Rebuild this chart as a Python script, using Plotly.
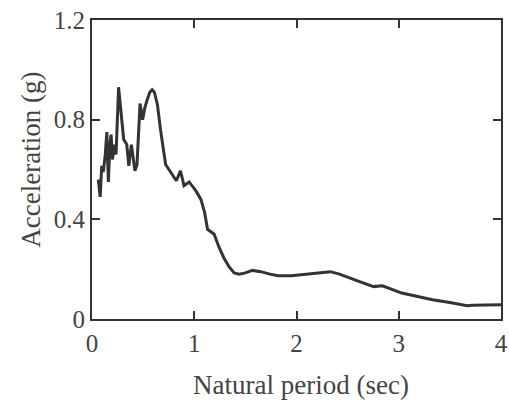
import plotly.graph_objects as go

period = [0.062, 0.08, 0.095, 0.11, 0.13, 0.145, 0.16, 0.175, 0.187, 0.20, 0.22, 0.235, 0.26,
          0.285, 0.31, 0.34, 0.36, 0.385, 0.42, 0.44, 0.47, 0.495, 0.515, 0.54, 0.565, 0.588,
          0.61, 0.64, 0.67, 0.72, 0.77, 0.825, 0.865, 0.90, 0.95, 1.015, 1.065, 1.10, 1.13,
          1.195, 1.24, 1.29, 1.34, 1.39, 1.44, 1.50, 1.57, 1.65, 1.74, 1.82, 1.95, 2.05, 2.15,
          2.33, 2.42, 2.51, 2.63, 2.755, 2.84, 3.03, 3.33, 3.5, 3.67, 3.72, 4.0]
accel = [0.56, 0.49, 0.615, 0.59, 0.66, 0.75, 0.55, 0.70, 0.74, 0.64, 0.70, 0.66, 0.93,
         0.82, 0.72, 0.70, 0.615, 0.70, 0.595, 0.62, 0.865, 0.80, 0.845, 0.88, 0.91, 0.92,
         0.91, 0.86, 0.76, 0.62, 0.59, 0.555, 0.595, 0.535, 0.55, 0.515, 0.48, 0.43, 0.36,
         0.34, 0.29, 0.245, 0.21, 0.185, 0.18, 0.185, 0.195, 0.19, 0.18, 0.174, 0.174, 0.178, 0.185,
         0.19, 0.18, 0.165, 0.148, 0.13, 0.133, 0.104, 0.077, 0.066, 0.053, 0.055, 0.057]

x_ticks = [0, 1, 2, 3, 4]
y_ticks = [0, 0.4, 0.8, 1.2]
y_tick_labels = ["0", "0.4", "0.8", "1.2"]
x_title = "Natural period (sec)"
y_title = "Acceleration (g)"

family = "Liberation Serif, Times New Roman, serif"
tick_font = dict(family=family, size=25, color="#444")
title_font = dict(family=family, size=27, color="#444")

fig = go.Figure(go.Scatter(x=period, y=accel, mode="lines",
                           line=dict(color="#333", width=3)))

axis_common = dict(showline=True, linecolor="#333", linewidth=2, mirror="ticks",
                   ticks="inside", ticklen=8, tickwidth=2, tickcolor="#333",
                   showgrid=False, zeroline=False, tickfont=tick_font, automargin=False)

fig.update_layout(
    width=509, height=404,
    margin=dict(l=92, r=8, t=20, b=85),
    paper_bgcolor="white", plot_bgcolor="white",
    showlegend=False,
    xaxis=dict(range=[0, 4], tickvals=x_ticks, ticktext=[str(v) for v in x_ticks],
               ticklabelstandoff=1, **axis_common),
    yaxis=dict(range=[0, 1.2], tickvals=y_ticks, ticktext=y_tick_labels,
               ticklabelstandoff=0, **axis_common),
    annotations=[
        dict(text=x_title, xref="paper", yref="paper", x=0.511, y=-0.22,
             xanchor="center", yanchor="middle", showarrow=False, font=title_font),
        dict(text=y_title, xref="paper", yref="paper", x=-0.149, y=0.533,
             xanchor="center", yanchor="middle", textangle=-90, showarrow=False,
             font=title_font),
    ],
)

fig.write_html("out.html")
